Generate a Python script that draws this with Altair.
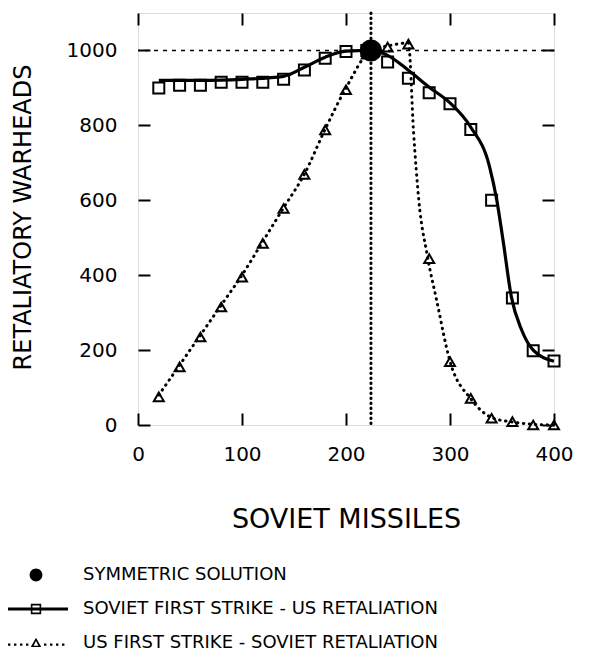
import altair as alt
import pandas as pd

# ---- data ----
sq_x = [20, 40, 60, 80, 100, 120, 140, 160, 180, 200, 220, 240, 260, 280, 300, 320, 340, 360, 380, 400]
sq_y = [900, 907, 907, 915, 915, 915, 923, 948, 979, 997, 1000, 969, 926, 887, 858, 789, 600, 339, 198, 171]

solid_x = [20, 60, 100, 140, 160, 180, 200, 224, 240, 260, 280, 300, 320, 338, 345, 351, 359, 369, 380, 400]
solid_y = [920, 920, 923, 931, 955, 982, 998, 1000, 987, 947, 902, 860, 795, 690, 600, 493, 342, 253, 200, 170]

tri_x = [20, 40, 60, 80, 100, 120, 140, 160, 180, 200, 220, 240, 260, 280, 300, 320, 340, 360, 380, 400]
tri_y = [75, 155, 235, 315, 395, 485, 578, 669, 788, 895, 990, 1009, 1017, 444, 169, 71, 18, 9, 0, 0]

dot_x = [20, 40, 60, 80, 100, 120, 140, 160, 180, 200, 224, 240, 260, 265, 270, 278, 287, 300, 320, 340, 360, 380, 400]
dot_y = [80, 160, 240, 320, 400, 490, 580, 670, 790, 900, 1000, 1012, 1020, 780, 600, 455, 335, 170, 70, 20, 8, 2, 0]

sym_x = [224]
sym_y = [1000]

x_ticks = [0, 100, 200, 300, 400]
y_ticks = [0, 200, 400, 600, 800, 1000]

series_labels = [
    "SYMMETRIC SOLUTION",
    "SOVIET FIRST STRIKE - US RETALIATION",
    "US FIRST STRIKE - SOVIET RETALIATION",
]

# ---- legend symbol paths (unit space) ----
circle_path = "M0.8,0A0.8,0.8,0,1,1,-0.8,0A0.8,0.8,0,1,1,0.8,0Z"
square_line_path = ("M-3.5,-0.2H4V0.2H-3.5Z"
                    "M-0.65,-0.65H0.65V0.65H-0.65Z"
                    "M-0.45,-0.45V0.45H0.45V-0.45Z")
dots = []
p = -3.5
while p < 4.0:
    if abs(p) > 0.95:
        dots.append(f"M{p:.2f},0.05h0.3v0.3h-0.3Z")
    p += 0.75
tri_dot_path = ("".join(dots) +
                "M0,-0.65L0.65,0.5L-0.65,0.5Z"
                "M0,-0.24L-0.3,0.33L0.3,0.33Z")

FONT = "DejaVu Sans"
W, H = 416, 412

sq_df = pd.DataFrame({"x": sq_x, "y": sq_y})
solid_df = pd.DataFrame({"x": solid_x, "y": solid_y})
tri_df = pd.DataFrame({"x": tri_x, "y": tri_y})
dot_df = pd.DataFrame({"x": dot_x, "y": dot_y})
sym_df = pd.DataFrame({"x": sym_x, "y": sym_y, "series": [series_labels[0]]})

xs = alt.Scale(domain=[0, 400], nice=False)
ys = alt.Scale(domain=[0, 1100], nice=False)


def tick_axis(orient, offset, values):
    return alt.Axis(orient=orient, offset=offset, values=values, labels=False,
                    title=None, domain=False, grid=False, ticks=True,
                    tickSize=12, tickWidth=2, tickColor="black")


main_x = alt.Axis(values=x_ticks, ticks=False, tickSize=0, domain=False, grid=False,
                  labelFont=FONT, labelFontSize=20, labelColor="black", labelPadding=19,
                  labelFlush=False, labelOverlap=False, format="d",
                  title="SOVIET MISSILES", titleFont=FONT, titleFontSize=27,
                  titleFontWeight="normal", titleColor="black",
                  titleBaseline="alphabetic", titleY=102)
main_y = alt.Axis(values=y_ticks, ticks=False, tickSize=0, domain=False, grid=False,
                  labelFont=FONT, labelFontSize=20, labelColor="black", labelPadding=21,
                  labelOverlap=False, format="d",
                  title="RETALIATORY WARHEADS", titleFont=FONT, titleFontSize=24,
                  titleFontWeight="normal", titleColor="black", titleAngle=270,
                  titleBaseline="alphabetic", titleAlign="center",
                  titleX=-108, titleY=204)

vline = alt.Chart(sym_df).mark_rule(
    color="black", strokeWidth=3, strokeDash=[0.5, 4.5], strokeCap="round"
).encode(x=alt.X("x:Q", scale=xs, axis=None))

hline = alt.Chart(sym_df).mark_rule(
    color="black", strokeWidth=1.6, strokeDash=[4, 5]
).encode(y=alt.Y("y:Q", scale=ys, axis=None))

solid = alt.Chart(solid_df).mark_line(
    color="black", strokeWidth=3.2, interpolate="monotone"
).encode(x=alt.X("x:Q", scale=xs, axis=main_x),
         y=alt.Y("y:Q", scale=ys, axis=main_y))

dotted = alt.Chart(dot_df).mark_line(
    color="black", strokeWidth=3, strokeDash=[0.5, 5.5], strokeCap="round",
    interpolate="monotone"
).encode(x=alt.X("x:Q", scale=xs, axis=None),
         y=alt.Y("y:Q", scale=ys, axis=None))

squares = alt.Chart(sq_df).mark_point(
    shape="square", size=121, filled=False, color="black", strokeWidth=2, opacity=1
).encode(x=alt.X("x:Q", scale=xs, axis=tick_axis("bottom", -H, x_ticks)),
         y=alt.Y("y:Q", scale=ys, axis=tick_axis("left", -W, y_ticks)))

triangles = alt.Chart(tri_df).mark_point(
    shape="triangle-up", size=100, filled=False, color="black", strokeWidth=2, opacity=1
).encode(x=alt.X("x:Q", scale=xs, axis=tick_axis("top", -H, x_ticks)),
         y=alt.Y("y:Q", scale=ys, axis=tick_axis("right", -W, y_ticks)))

sym = alt.Chart(sym_df).mark_point(
    filled=True, size=756, opacity=1, strokeWidth=0
).encode(
    x=alt.X("x:Q", scale=xs, axis=None),
    y=alt.Y("y:Q", scale=ys, axis=None),
    color=alt.value("black"),
    shape=alt.Shape(
        "series:N",
        scale=alt.Scale(domain=series_labels,
                        range=[circle_path, square_line_path, tri_dot_path]),
        legend=alt.Legend(title=None, orient="none", legendX=-111, legendY=553,
                          direction="vertical", symbolSize=256, symbolStrokeWidth=0,
                          symbolFillColor="black", symbolOffset=0, labelOffset=38,
                          labelFont=FONT, labelFontSize=18, labelColor="black",
                          rowPadding=16, padding=0, labelLimit=700),
    ),
)

chart = alt.layer(
    vline, hline, solid, dotted, squares, triangles, sym
).resolve_axis(
    x="independent", y="independent"
).properties(
    width=W, height=H,
    padding={"left": 130, "top": 5, "right": 53, "bottom": 226},
    autosize=alt.AutoSizeParams(type="none"),
).configure_view(
    stroke="black", strokeWidth=2
).configure(
    font=FONT, background="white"
)

chart.save("out.html", embed_options={"renderer": "svg", "actions": False})
